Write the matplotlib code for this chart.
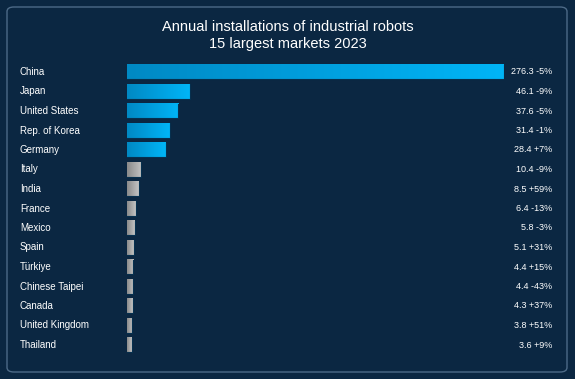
import numpy as np
import matplotlib.pyplot as plt
from matplotlib.patches import FancyBboxPatch
from matplotlib.transforms import blended_transform_factory
from matplotlib.colors import LinearSegmentedColormap

plt.rcParams['font.family'] = ['Liberation Sans', 'DejaVu Sans']

countries = ["China", "Japan", "United States", "Rep. of Korea", "Germany", "Italy",
             "India", "France", "Mexico", "Spain", "Türkiye", "Chinese Taipei",
             "Canada", "United Kingdom", "Thailand"]
values = [276.3, 46.1, 37.6, 31.4, 28.4, 10.4, 8.5, 6.4, 5.8, 5.1, 4.4, 4.4, 4.3, 3.8, 3.6]
changes = ["-5%", "-9%", "-5%", "-1%", "+7%", "-9%", "+59%", "-13%", "-3%", "+31%",
           "+15%", "-43%", "+37%", "+51%", "+9%"]
n_blue = 5

bg = "#0b2742"
fig = plt.figure(figsize=(5.75, 3.79), dpi=100, facecolor=bg)

# rounded panel behind everything
panel = FancyBboxPatch((7 / 575, 7 / 379), 560 / 575, 365 / 379,
                       boxstyle="round,pad=0,rounding_size=0.012",
                       transform=fig.transFigure, facecolor=bg,
                       edgecolor="#4d6a87", linewidth=1.0, zorder=-5)
fig.patches.append(panel)

fig.text(0.5, 1 - 35.5 / 379, "Annual installations of industrial robots\n15 largest markets 2023",
         ha="center", va="center", color="white", fontsize=10.5, linespacing=1.2)

ax = fig.add_axes([127 / 575, (379 - 354.75) / 379, 377 / 575, 292.5 / 379])
ax.set_facecolor("none")
ax.axis("off")

grad = np.linspace(0, 1, 256).reshape(1, -1)
blue = LinearSegmentedColormap.from_list("b", ["#0089c4", "#00b5f7"])
grey = LinearSegmentedColormap.from_list("g", ["#8a8a8a", "#c4c4c4"])
h = 0.36
for i, v in enumerate(values):
    cmap = blue if i < n_blue else grey
    ax.imshow(grad, cmap=cmap, aspect="auto", extent=(0, v, i + h, i - h),
              interpolation="bicubic")
    ax.plot([0, v, v], [i + h, i + h, i - h], color="#06304f", lw=0.8)

ax.set_xlim(0, max(values))
ax.set_ylim(len(values) - 0.5, -0.5)

tr = blended_transform_factory(fig.transFigure, ax.transData)
for i, (c, v, ch) in enumerate(zip(countries, values, changes)):
    fig.text(20 / 575, i, c, transform=tr, ha="left", va="center", color="white", fontsize=7)
    fig.text(552 / 575, i, f"{v} {ch}", transform=tr, ha="right", va="center",
             color="white", fontsize=6.5)

fig.savefig("out.png", dpi=100, facecolor=bg)
